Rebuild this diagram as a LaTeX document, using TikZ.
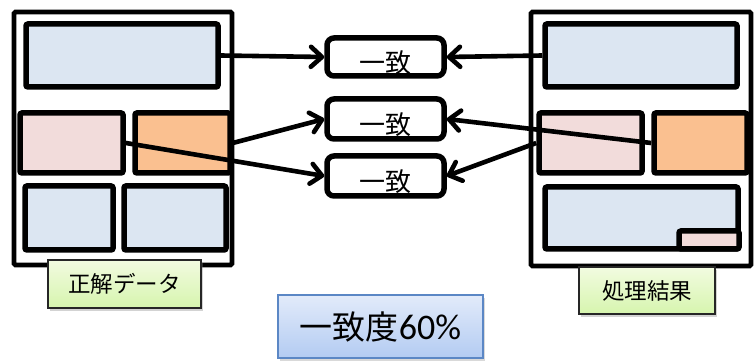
\documentclass[tikz,border=0pt]{standalone}
\usepackage{fontspec}
\newfontfamily\jp{Noto Sans CJK JP}
\newfontfamily\carl{Carlito}
\usetikzlibrary{arrows.meta,shadows}
\definecolor{lblue}{HTML}{DCE6F2}
\definecolor{lpink}{HTML}{F2DCDB}
\definecolor{lorange}{HTML}{FAC090}
\definecolor{gtop}{HTML}{F2FBE0}
\definecolor{gbot}{HTML}{D6F5AE}
\definecolor{btop}{HTML}{E2EBFA}
\definecolor{bbot}{HTML}{B3CBF2}
\definecolor{bborder}{HTML}{5B87C5}
\newcommand{\lowtext}[1]{\raisebox{-16pt}[0pt][0pt]{#1}}
\tikzset{
  frame/.style={draw=black, line width=4.8pt, rounded corners=1.5pt},
  blk/.style={draw=black, line width=5.5pt, rounded corners=2pt, inner sep=0pt},
  midbox/.style={draw=black, line width=5.5pt, rounded corners=7pt, fill=white, inner sep=0pt,
    minimum width=117pt, font=\jp\fontsize{26}{26}\selectfont},
  lbl/.style={draw=black!85, line width=1.4pt, top color=gtop, bottom color=gbot, inner sep=0pt,
    drop shadow={shadow xshift=2pt, shadow yshift=-3pt, opacity=0.35},
    font=\jp\fontsize{22.5}{22.5}\selectfont},
  arr/.style={line width=4.6pt, -{Straight Barb[length=11pt,width=20pt,line cap=round,line join=round]}}
}
\begin{document}
\begin{tikzpicture}[x=1pt,y=-1pt]
\useasboundingbox (0,0) rectangle (756,363);
% frames
\draw[frame, fill=white] (14,12) rectangle (232,265);
\draw[frame, fill=white] (531,12) rectangle (751,266);
% left inner
\node[blk, fill=lblue, minimum width=192pt, minimum height=63pt] (lt) at (122,55.5) {};
\node[blk, fill=lpink, minimum width=103pt, minimum height=60pt] (lp) at (71.5,143) {};
\node[blk, fill=lorange, minimum width=95pt, minimum height=60pt] (lo) at (182.5,143) {};
\node[blk, fill=lblue, minimum width=88pt, minimum height=64pt] (lb1) at (69,218) {};
\node[blk, fill=lblue, minimum width=102pt, minimum height=64pt] (lb2) at (175,218) {};
% right inner
\node[blk, fill=lblue, minimum width=192pt, minimum height=63pt] (rt) at (641,55.5) {};
\node[blk, fill=lpink, minimum width=103pt, minimum height=60pt] (rp) at (590.5,143) {};
\node[blk, fill=lorange, minimum width=93pt, minimum height=60pt] (ro) at (700.5,143) {};
\node[blk, fill=lblue, minimum width=193pt, minimum height=62pt] (rb) at (641.5,218) {};
\node[blk, fill=lpink, minimum width=60pt, minimum height=18pt] (rs) at (709,240) {};
% labels
\node[lbl, minimum width=153pt, minimum height=48pt] (L1) at (124.5,284) {正解データ};
\node[lbl, minimum width=136pt, minimum height=47pt] (L2) at (647,290.5) {処理結果};
% middle
\node[midbox, minimum height=38pt] (m1) at (385.5,57) {\lowtext{一致}};
\node[midbox, minimum height=40pt] (m2) at (385.5,119) {\lowtext{一致}};
\node[midbox, minimum height=40pt] (m3) at (385.5,176) {\lowtext{一致}};
% result
\node[draw=bborder, line width=1.4pt, top color=btop, bottom color=bbot,
  drop shadow={shadow xshift=2pt, shadow yshift=-3pt, opacity=0.3},
  minimum width=205pt, minimum height=63pt, inner sep=0pt] (res) at (380.5,326.5)
  {{\jp\fontsize{33}{33}\selectfont 一致度}{\carl\fontsize{36}{36}\selectfont 60\%}};
% arrows
\draw[arr] (lt.east) -- (m1.west);
\draw[arr] (rt.west) -- (m1.east);
\draw[arr] (lo.east) -- (m2.west);
\draw[arr] (lp.east) -- (m3.west);
\draw[arr] (ro.west) -- (m2.east);
\draw[arr] (rp.west) -- (m3.east);
\end{tikzpicture}
\end{document}
